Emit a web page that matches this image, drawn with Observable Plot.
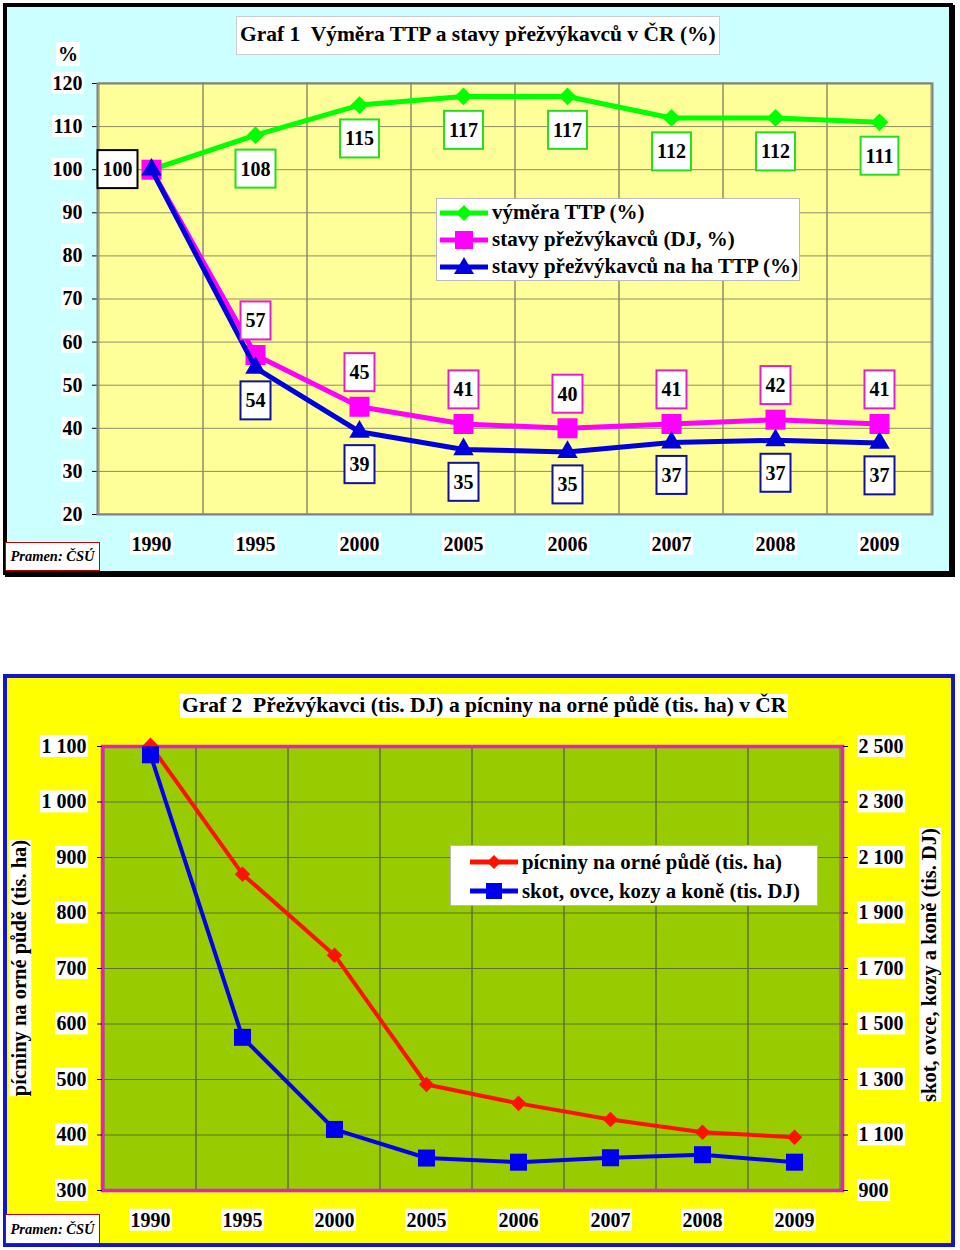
<!DOCTYPE html>
<html><head><meta charset="utf-8">
<script src="https://cdn.jsdelivr.net/npm/d3@7"></script>
<script src="https://cdn.jsdelivr.net/npm/@observablehq/plot@0.6"></script>
<style>
body{margin:0;width:960px;height:1250px;position:relative;background:#fff;font-family:"Liberation Serif","Times New Roman",serif;overflow:hidden;}
.abs{position:absolute;}
.frame1{left:3px;top:3px;width:950px;height:572px;box-sizing:border-box;border:4px solid #000;box-shadow:2px 2px 0 #000;background:#ccffff;}
.frame2{left:3px;top:674px;width:952px;height:573px;box-sizing:border-box;border:4px solid #1414c8;background:#ffff00;}
.title{background:#fff;font-weight:bold;font-size:21.5px;white-space:nowrap;line-height:1;}
.pramen{background:#fff;border:1.5px solid #c00000;box-sizing:border-box;font-style:italic;font-weight:bold;font-size:14.5px;display:flex;align-items:center;justify-content:center;}
.legend{background:#fff;border:1px solid #bbb;box-sizing:border-box;font-weight:bold;}
.legend .row{display:flex;align-items:center;white-space:nowrap;}
.vlabel{background:#fff;font-weight:bold;font-size:20.5px;white-space:nowrap;transform:translate(-50%,-50%) rotate(-90deg);line-height:1.05;}
svg.plot{position:absolute;left:0;}
</style></head><body>
<div class="abs frame1"></div>
<div class="abs frame2"></div>
<div id="c1" class="abs" style="left:0;top:0;width:960px;height:580px;"></div>
<div id="c2" class="abs" style="left:0;top:670px;width:960px;height:580px;"></div>
<script>
// ---------- data ----------
const years = ["1990","1995","2000","2005","2006","2007","2008","2009"];
// Graf 1 (%)
const vymeraTTP = [100,108,115,117,117,112,112,111];
const stavyDJ = [100,57,45,41,40,41,42,41];
const stavyNaHaTTP = [100,54,39.2,35.1,34.5,36.7,37.2,36.6];
const yTicks1 = [20,30,40,50,60,70,80,90,100,110,120];
const seriesNames1 = ["výměra TTP (%)","stavy přežvýkavců (DJ, %)","stavy přežvýkavců na ha TTP (%)"];
// Graf 2
const picniny = [1102,870,724,491,457,428,405,396];      // tis. ha, left axis
const skot = [2470,1452,1120,1017,1002,1018,1029,1002];  // tis. DJ, right axis
const leftTicks = [300,400,500,600,700,800,900,1000,1100];
const rightTicks = [900,1100,1300,1500,1700,1900,2100,2300,2500];
const seriesNames2 = ["pícniny na orné půdě (tis. ha)","skot, ovce, kozy a koně (tis. DJ)"];

const FONT = '"Liberation Serif","Times New Roman",serif';
const fmt = d3.formatLocale({decimal:",", thousands:" ", grouping:[3], currency:["",""]}).format(",d");
const svgNS = "http://www.w3.org/2000/svg";

function boxTexts(root, selector, o) {
  root.querySelectorAll(selector).forEach(t => {
    const b = t.getBBox();
    const r = document.createElementNS(svgNS, "rect");
    r.setAttribute("x", b.x - o.padX);
    r.setAttribute("y", b.y - o.padY);
    r.setAttribute("width", b.width + 2 * o.padX);
    r.setAttribute("height", b.height + 2 * o.padY);
    r.setAttribute("fill", o.fill || "#fff");
    r.setAttribute("stroke", o.stroke || "none");
    r.setAttribute("stroke-width", o.strokeWidth || 0);
    const tr = t.getAttribute("transform");
    if (tr) r.setAttribute("transform", tr);
    t.parentNode.insertBefore(r, t);
  });
}

// ---------- Graf 1 ----------
const g1 = years.map((year, i) => ({year, i, v: vymeraTTP[i]}));
const m1 = years.map((year, i) => ({year, i, v: stavyDJ[i]}));
const b1 = years.map((year, i) => ({year, i, v: stavyNaHaTTP[i]}));
const lab = d => String(Math.round(d.v));
const GREEN = "#00ff00", MAG = "#ff00ff", BLUE = "#0000dd";
const grid1 = "#8c8c66";

const p1 = Plot.plot({
  width: 960, height: 580,
  marginLeft: 97, marginRight: 28, marginTop: 83, marginBottom: 66,
  style: {background: "transparent", fontFamily: FONT, fontSize: "20px", fontWeight: "bold", color: "#000", overflow: "visible"},
  x: {type: "band", domain: years, padding: 0, label: null, tickSize: 0, tickPadding: 22},
  y: {domain: [20, 120], ticks: yTicks1, label: null, tickSize: 5, tickPadding: 10},
  marks: [
    Plot.frame({fill: "#ffff99"}),
    Plot.ruleY(yTicks1, {stroke: grid1, strokeWidth: 1}),
    Plot.cell(years, {x: d => d, fill: "none", stroke: grid1, strokeWidth: 1}),
    Plot.frame({stroke: "#808080", strokeWidth: 2}),
    Plot.lineY(g1, {x: "year", y: "v", stroke: GREEN, strokeWidth: 5}),
    Plot.dot(g1, {x: "year", y: "v", symbol: "diamond2", r: 8, fill: GREEN}),
    Plot.lineY(m1, {x: "year", y: "v", stroke: MAG, strokeWidth: 5}),
    Plot.dot(m1, {x: "year", y: "v", symbol: "square", r: 11.3, fill: MAG}),
    Plot.lineY(b1, {x: "year", y: "v", stroke: BLUE, strokeWidth: 5}),
    Plot.dot(b1, {x: "year", y: "v", symbol: "triangle", r: 7.6, fill: BLUE}),
    Plot.text(g1.filter(d => d.i > 0), {x: "year", y: "v", text: lab, dy: 34, fill: "#000", ariaDescription: "lab-green"}),
    Plot.text(m1.filter(d => d.i > 0), {x: "year", y: "v", text: lab, dy: -34, fill: "#000", ariaDescription: "lab-mag"}),
    Plot.text(b1.filter(d => d.i > 0), {x: "year", y: "v", text: lab, dy: 33, fill: "#000", ariaDescription: "lab-blue"}),
    Plot.text(g1.filter(d => d.i === 0), {x: "year", y: "v", text: lab, dx: -34, fill: "#000", ariaDescription: "lab-black"})
  ]
});
p1.classList.add("plot");
document.getElementById("c1").appendChild(p1);

// ---------- Graf 2 ----------
const toLeft = r => r / 2 - 150;          // right-axis (tis. DJ) -> left-axis units
const toRight = l => (l + 150) * 2;
const r2 = years.map((year, i) => ({year, i, v: picniny[i]}));
const s2 = years.map((year, i) => ({year, i, v: toLeft(skot[i])}));
const RED = "#ff1100", BLUE2 = "#0000ee";
const grid2 = "#5e7030";

const p2 = Plot.plot({
  width: 960, height: 580,
  marginLeft: 102, marginRight: 118, marginTop: 76, marginBottom: 60,
  style: {background: "transparent", fontFamily: FONT, fontSize: "20px", fontWeight: "bold", color: "#000", overflow: "visible"},
  x: {type: "band", domain: years, padding: 0, label: null},
  y: {domain: [300, 1100], label: null},
  marks: [
    Plot.frame({fill: "#99cc00"}),
    Plot.ruleY(leftTicks, {stroke: grid2, strokeWidth: 1}),
    Plot.cell(years, {x: d => d, fill: "none", stroke: grid2, strokeWidth: 1}),
    Plot.frame({stroke: "#e81ec8", strokeWidth: 3.5}),
    Plot.axisY(leftTicks, {anchor: "left", tickSize: 5, tickPadding: 11, tickFormat: fmt, label: null}),
    Plot.axisY(rightTicks.map(toLeft), {anchor: "right", tickSize: 5, tickPadding: 11, tickFormat: d => fmt(toRight(d)), label: null}),
    Plot.axisX({tickSize: 0, tickPadding: 22, label: null}),
    Plot.lineY(r2, {x: "year", y: "v", stroke: RED, strokeWidth: 4}),
    Plot.dot(r2, {x: "year", y: "v", symbol: "diamond2", r: 7, fill: RED}),
    Plot.lineY(s2, {x: "year", y: "v", stroke: BLUE2, strokeWidth: 4}),
    Plot.dot(s2, {x: "year", y: "v", symbol: "square", r: 9.6, fill: BLUE2})
  ]
});
p2.classList.add("plot");
document.getElementById("c2").appendChild(p2);

// boxes behind texts
const tickSel = 'g[aria-label$="tick label"] text, g[aria-label="y-axis"] .tick text, g[aria-label="x-axis"] .tick text';
for (const p of [p1, p2]) boxTexts(p, tickSel, {padX: 1.5, padY: 0, fill: "#fff"});
boxTexts(p1, 'g[aria-description="lab-green"] text', {padX: 5, padY: 8, fill: "#fff", stroke: "#22dd22", strokeWidth: 2});
boxTexts(p1, 'g[aria-description="lab-mag"] text', {padX: 5, padY: 8, fill: "#fff", stroke: "#e020d0", strokeWidth: 2});
boxTexts(p1, 'g[aria-description="lab-blue"] text', {padX: 5, padY: 8, fill: "#fff", stroke: "#1010a0", strokeWidth: 2});
boxTexts(p1, 'g[aria-description="lab-black"] text', {padX: 5, padY: 8, fill: "#fff", stroke: "#000", strokeWidth: 2});

// ---------- HTML overlays ----------
function el(html, cls, style) {
  const d = document.createElement("div");
  d.className = "abs " + cls;
  d.setAttribute("style", style);
  d.innerHTML = html;
  document.body.appendChild(d);
  return d;
}
function marker(color, sym) {
  let shape = "";
  if (sym === "diamond") shape = `<polygon points="25,2 33,10 25,18 17,10" fill="${color}"/>`;
  if (sym === "square") shape = `<rect x="16" y="1" width="18" height="18" fill="${color}"/>`;
  if (sym === "square2") shape = `<rect x="17" y="2" width="16" height="16" fill="${color}"/>`;
  if (sym === "triangle") shape = `<polygon points="25,0 35,17 15,17" fill="${color}"/>`;
  if (sym === "diamond2") shape = `<polygon points="25,3 32,10 25,17 18,10" fill="${color}"/>`;
  return `<svg width="50" height="20" style="margin-right:3px;flex:none"><line x1="1" y1="10" x2="49" y2="10" stroke="${color}" stroke-width="5"/>${shape}</svg>`;
}

el("Graf 1&nbsp; Výměra TTP a stavy přežvýkavců v ČR (%)", "title", "left:236px;top:16px;padding:7px 3px 8px 3px;border:1px solid #ccc;");
el("%", "title", "left:56px;top:42px;padding:2px 2px;font-size:20px;");
el("Pramen: ČSÚ", "pramen", "left:5px;top:542px;width:95px;height:29px;");
el(`<div class="row" style="height:27px">${marker(GREEN,"diamond")}${seriesNames1[0]}</div>
<div class="row" style="height:27px">${marker(MAG,"square")}${seriesNames1[1]}</div>
<div class="row" style="height:27px">${marker(BLUE,"triangle")}${seriesNames1[2]}</div>`, "legend", "left:436px;top:198px;width:364px;height:83px;padding:0 0 0 2px;font-size:21px;");

el("Graf 2&nbsp; Přežvýkavci (tis. DJ) a pícniny na orné půdě (tis. ha) v ČR", "title", "left:180px;top:694px;padding:1px 2px;");
el("Pramen: ČSÚ", "pramen", "left:5px;top:1214px;width:95px;height:30px;");
el(`<div class="row" style="height:29px">${marker(RED,"diamond2")}${seriesNames2[0]}</div>
<div class="row" style="height:29px">${marker(BLUE2,"square2")}${seriesNames2[1]}</div>`, "legend", "left:450px;top:845px;width:368px;height:61px;padding:1px 0 0 18px;font-size:20.8px;");
el("pícniny na orné půdě (tis. ha)", "vlabel", "left:20px;top:968px;");
el("skot, ovce, kozy a koně (tis. DJ)", "vlabel", "left:930px;top:965px;");
</script>
</body></html>
